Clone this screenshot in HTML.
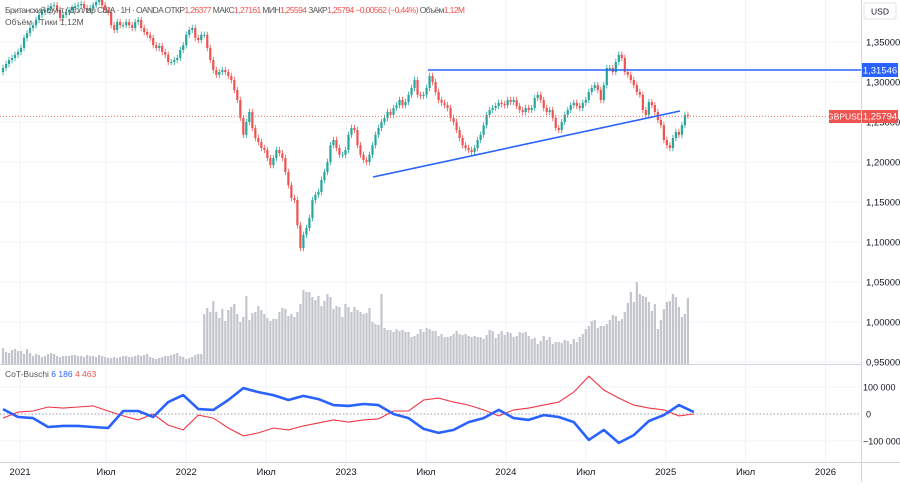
<!DOCTYPE html>
<html><head><meta charset="utf-8">
<style>
body{margin:0;background:#fff;width:900px;height:482px;overflow:hidden;font-family:"Liberation Sans","Noto Sans CJK SC",sans-serif;}
svg text{font-family:"Liberation Sans","Noto Sans CJK SC",sans-serif;}
</style></head>
<body>
<svg id="chart" width="900" height="482" xmlns="http://www.w3.org/2000/svg">
<g id="grid"></g>
<g id="vol"></g>
<g id="candles"></g>
<g id="osc"></g>
<g id="overlay"></g>
</svg>
<script>
const closes=[1.3175,1.3225,1.3275,1.330,1.334,1.3375,1.3425,1.355,1.361,1.3675,1.371,1.3775,1.384,1.3875,1.390,1.3925,1.395,1.396,1.390,1.380,
1.384,1.3875,1.390,1.3925,1.395,1.396,1.3975,1.3925,1.390,1.3925,1.396,1.400,1.4025,1.396,1.390,1.3875,1.371,1.365,1.375,1.371,
1.371,1.375,1.371,1.3675,1.375,1.3775,1.3675,1.3625,1.359,1.355,1.346,1.3425,1.345,1.3375,1.334,1.325,1.325,1.3275,1.330,1.340,
1.346,1.359,1.365,1.3675,1.355,1.3525,1.359,1.359,1.3425,1.3275,1.315,1.309,1.3125,1.315,1.3125,1.3075,1.3025,1.290,1.2775,1.255,
1.234,1.250,1.2625,1.2425,1.230,1.225,1.2175,1.215,1.205,1.196,1.205,1.215,1.211,1.205,1.1875,1.171,1.155,1.1525,1.121,1.0925,
1.109,1.1175,1.130,1.1525,1.159,1.1625,1.1775,1.1875,1.200,1.221,1.2275,1.2175,1.209,1.209,1.215,1.234,1.2425,1.240,1.221,1.209,
1.2025,1.200,1.209,1.221,1.234,1.2425,1.250,1.255,1.2625,1.259,1.2675,1.271,1.2775,1.271,1.275,1.284,1.2925,1.3025,1.284,1.2825,
1.284,1.2925,1.3075,1.300,1.2875,1.2775,1.274,1.271,1.2675,1.255,1.250,1.240,1.230,1.221,1.2175,1.215,1.2125,1.2175,1.2275,1.234,
1.246,1.259,1.265,1.2675,1.270,1.274,1.2725,1.271,1.2775,1.275,1.2775,1.270,1.265,1.2625,1.2675,1.265,1.2675,1.280,1.284,1.2775,
1.2675,1.2625,1.265,1.255,1.2425,1.240,1.250,1.259,1.265,1.271,1.274,1.270,1.2675,1.274,1.2775,1.2875,1.2925,1.296,1.290,1.2775,
1.296,1.3175,1.3175,1.3125,1.325,1.334,1.330,1.3125,1.309,1.3025,1.296,1.2875,1.284,1.265,1.259,1.275,1.271,1.2625,1.2525,1.246,
1.2275,1.221,1.2175,1.230,1.2375,1.234,1.246,1.259,1.25794];
const firstOpen=1.3125;
const volumes=[16,12,11,14,15,13,13,10,15,11,8,10,9,7,8,10,11,10,8,7,8,8,8,9,9,8,8,7,9,8,8,7,9,8,7,6,6,7,6,7,8,8,7,7,8,9,8,9,10,7,6,5,6,7,8,8,9,10,11,8,7,5,6,7,9,10,10,
50,56,52,63,52,46,55,43,54,57,60,50,42,47,68,44,51,52,58,54,50,46,43,45,45,52,56,55,48,50,47,52,60,
74,72,72,67,64,68,58,63,70,67,55,58,57,47,60,57,52,57,54,52,50,51,56,42,40,39,70,
36,34,34,32,35,33,34,32,32,27,28,30,35,32,36,35,33,33,28,30,27,27,28,30,33,30,29,30,28,27,28,27,27,25,29,34,33,26,30,33,29,32,31,27,28,32,31,32,28,25,26,20,23,28,24,27,20,22,22,21,24,23,20,25,22,27,30,35,38,
43,44,36,38,38,40,44,49,48,43,45,52,61,72,62,82,70,68,67,62,53,60,35,44,55,62,63,70,67,57,47,50,66];
const cotBlue=[18,-11,-15,-48,-44,-44,-48,-52,11,11,-11,44,70,18,15,52,96,81,70,52,67,55,33,30,37,33,0,-15,-55,-70,-59,-30,-15,15,-15,-22,-4,-11,-30,-96,-59,-107,-78,-26,-4,33,7];
const cotRed=[-15,7,11,26,22,26,30,11,-7,-22,0,-41,-59,-4,-15,-52,-81,-70,-52,-59,-44,-33,-22,-30,-22,-18,11,11,52,59,44,33,15,-7,15,22,33,44,81,140,89,59,33,22,15,-7,0];
const volTicks=["1,35000","1,30000","1,25000","1,20000","1,15000","1,10000","1,05000","1,00000","0,95000"];
const priceTickVals=[1.35,1.30,1.25,1.20,1.15,1.10,1.05,1.00,0.95];
const cotTickVals=[100000,0,-100000];
const cotTickLabels=["100 000","0","\u2212100 000"];
const timeLabels=["2021","Июл","2022","Июл","2023","Июл","2024","Июл","2025","Июл","2026"];
const timeLabelWeeks=[5.7,34.3,61,87.6,114.2,140.8,167.4,194,220.6,247.2,273.8];

const NS="http://www.w3.org/2000/svg";
function mk(parent,tag,attrs,text){const e=document.createElementNS(NS,tag);for(const k in attrs)e.setAttribute(k,attrs[k]);if(text!==undefined)e.textContent=text;document.getElementById(parent).appendChild(e);return e;}
const X0=3,STEP=3.004;
function xAt(i){return X0+i*STEP;}
function yP(p){return 42+(1.35-p)*800;}
function yV(v){return 364-v;}
function yCot(k){return 414-k*0.27;}

priceTickVals.forEach((p,i)=>{
 const l=mk('grid','line',{x1:0,x2:861,y1:yP(p),y2:yP(p),stroke:'#f0f3fa','stroke-width':1});
 
 
 const t=mk('grid','text',{x:866,y:yP(p)+3.5,'font-size':9.5,fill:'#131722'},volTicks[i]);
 
 
});
cotTickVals.forEach((v,i)=>{
 const k=v/1000;
 if(v!==0){const l=mk('grid','line',{x1:0,x2:861,y1:yCot(k),y2:yCot(k),stroke:'#f0f3fa'});
 
 }
 const t=mk('grid','text',{x:v===0?866:863,y:yCot(k)+3.5,'font-size':9,fill:'#131722'},cotTickLabels[i]);
 
 
});
timeLabels.forEach((s,i)=>{
 const x=xAt(timeLabelWeeks[i]);
 const l=mk('grid','line',{x1:x,x2:x,y1:0,y2:462,stroke:'#f0f3fa'});
 
 
 const t=mk('grid','text',{x:x,y:475,'font-size':9.5,fill:'#131722','text-anchor':'middle'},s);
 
 
});
volumes.forEach((v,i)=>{
 const r=mk('vol','rect',{x:xAt(i)-1.1,y:yV(v),width:2.2,height:v,fill:'#c3c5cc'});
 
 
});
closes.forEach((c,i)=>{
 const o=i===0?firstOpen:closes[i-1];
 const up=c>=o, col=up?'#26a69a':'#ef5350';
 const hi=Math.max(o,c)+0.004, lo=Math.min(o,c)-0.004;
 const w=mk('candles','line',{x1:xAt(i),x2:xAt(i),y1:yP(hi),y2:yP(lo),stroke:col,'stroke-width':0.8});
 
 
 const top=yP(Math.max(o,c)),h=Math.max(1,Math.abs(yP(o)-yP(c)));
 const b=mk('candles','rect',{x:xAt(i)-1.1,y:top,width:2.2,height:h,fill:col});
 
 
});
function path(arr){return arr.map((v,i)=>(i?'L':'M')+xAt(i*5).toFixed(1)+' '+yCot(v).toFixed(1)).join(' ');}
const zl=mk('osc','line',{x1:0,x2:861,y1:414,y2:414,stroke:'#787b86','stroke-dasharray':'1.5 2','stroke-width':0.8});


const pr=mk('osc','path',{d:path(cotRed),fill:'none',stroke:'#f23645','stroke-width':1.1});


const pb=mk('osc','path',{d:path(cotBlue),fill:'none',stroke:'#2962ff','stroke-width':2.6,'stroke-linejoin':'round'});


</script>
<svg style="position:absolute;left:0;top:0" width="900" height="482">
<line x1="0" y1="364.5" x2="861" y2="364.5" stroke="#d1d4dc"/>
<line x1="0" y1="462.5" x2="900" y2="462.5" stroke="#d1d4dc"/>
<line x1="861.5" y1="0" x2="861.5" y2="482" stroke="#d1d4dc"/>
<line x1="0" y1="116.3" x2="861" y2="116.3" stroke="#ef5350" stroke-dasharray="1 2" stroke-width="0.8"/>
<line x1="428" y1="70" x2="861" y2="70" stroke="#2962ff" stroke-width="1.6"/>
<line x1="373" y1="177" x2="680" y2="111" stroke="#2962ff" stroke-width="1.6"/>
<rect x="862" y="63" width="36" height="14" fill="#2962ff"/>
<text x="880" y="73.5" font-size="9.5" fill="#fff" text-anchor="middle">1,31546</text>
<rect x="829" y="110" width="32" height="13" fill="#ef5350"/>
<text x="845" y="119.5" font-size="8.5" fill="#fff" text-anchor="middle">GBPUSD</text>
<rect x="862" y="110" width="36" height="13" fill="#ef5350"/>
<text x="880" y="119.5" font-size="9.5" fill="#fff" text-anchor="middle">1,25794</text>
<rect x="864" y="3" width="32" height="16" fill="#fff" stroke="#e0e3eb" rx="2"/>
<text x="880" y="14.5" font-size="8.5" fill="#131722" text-anchor="middle">USD</text>
<text x="5" y="13" font-size="8.5" fill="#555" textLength="460" lengthAdjust="spacing">Британский фунт / Доллар США · 1Н · OANDA  ОТКР<tspan fill="#ef5350">1,26377</tspan>  МАКС<tspan fill="#ef5350">1,27161</tspan>  МИН<tspan fill="#ef5350">1,25594</tspan>  ЗАКР<tspan fill="#ef5350">1,25794</tspan>  <tspan fill="#ef5350">−0,00562 (−0,44%)</tspan>  Объём<tspan fill="#ef5350">1,12M</tspan></text>
<text x="5" y="25" font-size="8.5" fill="#555">Объём · Тики  1,12M</text>
<text x="5" y="377" font-size="8.5" fill="#555">CoT-Buschi  <tspan fill="#2962ff">6 186</tspan>  <tspan fill="#ef5350">4 463</tspan></text>
</svg>
</body></html>
